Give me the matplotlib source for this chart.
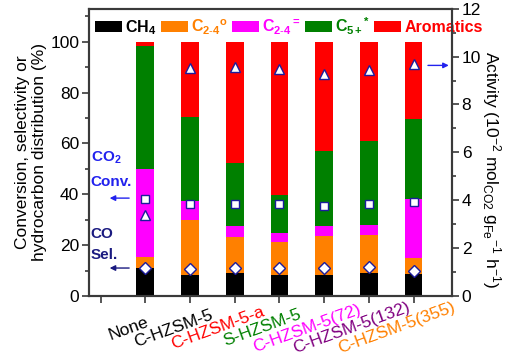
import matplotlib
matplotlib.use("Agg")
import matplotlib.pyplot as plt
import matplotlib.transforms as mtransforms
import numpy as np
from matplotlib.patches import Patch

plt.rcParams['font.family'] = ['Liberation Sans', 'DejaVu Sans']
plt.rcParams['mathtext.fontset'] = 'custom'
plt.rcParams['mathtext.rm'] = 'Liberation Sans'
plt.rcParams['mathtext.it'] = 'Liberation Sans:italic'
plt.rcParams['mathtext.bf'] = 'Liberation Sans:bold'
plt.rcParams['mathtext.default'] = 'regular'

categories = ["None", "C-HZSM-5", "C-HZSM-5-a", "S-HZSM-5",
              "C-HZSM-5(72)", "C-HZSM-5(132)", "C-HZSM-5(355)"]
cat_colors = ["black", "black", "#FF0000", "#008000", "#FF00FF", "#800080", "#FF8000"]

ch4 = [10.9, 8.2, 8.9, 8.2, 8.2, 8.9, 8.6]
c24_par = [4.5, 21.6, 14.4, 13.1, 15.4, 15.0, 6.2]
c24_ole = [34.7, 7.6, 4.3, 3.3, 4.0, 3.9, 23.2]
c5p = [48.3, 32.9, 24.8, 15.3, 29.3, 33.1, 31.8]
arom = [1.6, 29.7, 47.6, 60.1, 43.1, 39.1, 30.2]

co2_conv = [38.3, 36.3, 36.3, 36.1, 35.4, 36.1, 37.0]
co_sel = [11.2, 10.6, 11.0, 11.0, 11.2, 11.6, 9.9]
activity = [3.38, 9.53, 9.57, 9.49, 9.28, 9.46, 9.71]

series = [ch4, c24_par, c24_ole, c5p, arom]
series_colors = ["#000000", "#FF8000", "#FF00FF", "#008000", "#FF0000"]
legend_labels = ["CH$_4$", r"C$_{2\text{-}4}$$^{o}$", r"C$_{2\text{-}4}$$^{=}$",
                 "C$_{5+}$$^{*}$", "Aromatics"]

fig = plt.figure(figsize=(5.12, 3.59), dpi=100)
ax = fig.add_axes([89/512, 1-296/359, (452-89)/512, (296-8.7)/359])
ax2 = ax.twinx()

x = np.arange(1, len(categories) + 1)
bottom = np.zeros(len(categories))
for vals, col in zip(series, series_colors):
    ax.bar(x, vals, width=0.4, bottom=bottom, color=col, zorder=2)
    bottom += np.array(vals)

mec = "#1c1c9c"
ax.plot(x, co2_conv, 's', ms=6.2, mfc='white', mec=mec, mew=1.0, zorder=4)
ax.plot(x, co_sel, 'D', ms=6.5, mfc='white', mec=mec, mew=1.0, zorder=4)
ax2.plot(x, activity, '^', ms=7.8, mfc='white', mec=mec, mew=1.0, zorder=4)

ax.set_xlim(-0.26, 7.86)
ax.set_ylim(0, 113)
ax2.set_ylim(0, 12)

ax.set_xticks(np.arange(0, 8))
ax.set_xticklabels([])
# category labels, rotated, centred slightly left of each tick
trans = mtransforms.blended_transform_factory(ax.transData, ax.transAxes)
shift = mtransforms.ScaledTranslation(-17/100, 0, fig.dpi_scale_trans)
for xi, lab, c in zip(x, categories, cat_colors):
    ax.text(xi, -0.112, lab, transform=trans + shift, rotation=20, ha='center', va='center',
            rotation_mode='anchor', fontsize=12.5, color=c, clip_on=False)

ax.set_yticks(np.arange(0, 101, 20))
ax.set_yticks(np.arange(10, 111, 20), minor=True)
ax2.set_yticks(np.arange(0, 13, 2))
ax2.set_yticks(np.arange(1, 12, 2), minor=True)

framecol = "#3a3a3a"
for a in (ax, ax2):
    for s in a.spines.values():
        s.set_color(framecol)
        s.set_linewidth(1.5)
    a.tick_params(which='major', length=5, width=1.2, color=framecol, labelsize=12.5, pad=2)
    a.tick_params(which='minor', length=3, width=1.2, color=framecol)

ax.set_ylabel("Conversion, selectivity or\nhydrocarbon distribution (%)", fontsize=12.5, labelpad=2)
ax2.set_ylabel("Activity (10$^{-2}$ mol$_{CO2}$ g$_{Fe}$$^{-1}$ h$^{-1}$)",
               fontsize=12.5, rotation=270)
ax2.yaxis.set_label_coords(1.108, 0.44)
ax2.yaxis.label.set_va('center')
ax2.yaxis.label.set_ha('center')

# annotations
blue = "#2222ee"
navy = "#1a1a80"
ax.text(-0.22, 54.5, "CO$_2$", color=blue, fontsize=11, fontweight='bold', va='center', ha='left')
ax.text(-0.22, 44.7, "Conv.", color=blue, fontsize=11, fontweight='bold', va='center', ha='left')
ax.text(-0.22, 24.3, "CO", color=navy, fontsize=11, fontweight='bold', va='center', ha='left')
ax.text(-0.22, 16.0, "Sel.", color=navy, fontsize=11, fontweight='bold', va='center', ha='left')
ax.annotate("", xy=(0.14, 38.5), xytext=(0.70, 38.5),
            arrowprops=dict(arrowstyle='-|>', color=blue, lw=1.0, mutation_scale=8))
ax.annotate("", xy=(0.14, 11.0), xytext=(0.70, 11.0),
            arrowprops=dict(arrowstyle='-|>', color=navy, lw=1.0, mutation_scale=8))
ax.annotate("", xy=(7.85, 90.7), xytext=(7.26, 90.7),
            arrowprops=dict(arrowstyle='-|>', color=blue, lw=1.0, mutation_scale=8))

handles = [Patch(facecolor=c, edgecolor='none') for c in series_colors]
leg = ax.legend(handles, legend_labels, loc='upper left', bbox_to_anchor=(-0.01, 1.01),
                ncol=5, frameon=False, fontsize=11.5, handlelength=1.7, handleheight=0.75,
                handletextpad=0.2, columnspacing=0.25, borderaxespad=0.2)
for t, c in zip(leg.get_texts(), series_colors):
    t.set_color(c)
    t.set_fontweight('bold')

fig.savefig("out.png", dpi=100)
